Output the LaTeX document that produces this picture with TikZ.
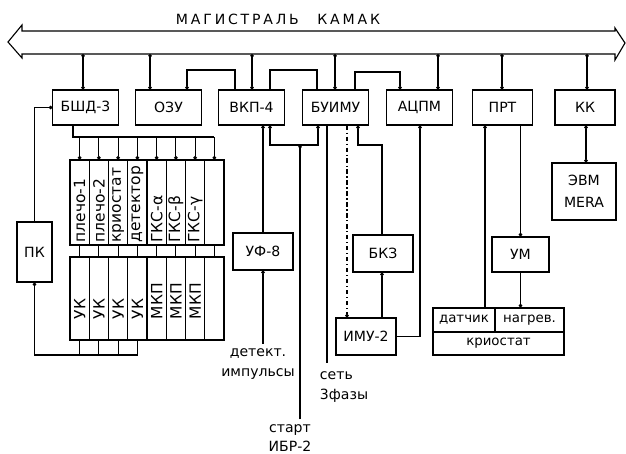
\documentclass[tikz,border=0pt]{standalone}
\usepackage{fontspec}
\setmainfont{DejaVu Sans}
\newfontfamily\titlefont[LetterSpace=20]{DejaVu Sans}
\usetikzlibrary{arrows.meta}

\begin{document}
\begin{tikzpicture}[
            x=0.025cm, y=-0.025cm,
            >={Circle[length=2.5pt]},
            wire/.style={line width=0.8pt},
            unitbox/.style={draw, line width=0.8pt, minimum width=1.63cm, minimum height=0.875cm, inner sep=1pt, font=\fontsize{10}{12}\selectfont},
            slot/.style={draw, line width=0.8pt, minimum width=0.48cm, inner sep=0pt},
            slotlabel/.style={rotate=90, anchor=west, inner sep=1pt, font=\fontsize{11}{11}\selectfont},
            cell/.style={draw, line width=0.8pt, inner sep=1pt, font=\fontsize{9.5}{11}\selectfont},
            signal/.style={align=center, font=\fontsize{10}{14}\selectfont}
        ]
            \fill[white] (0,0) rectangle (626,454);
            \useasboundingbox (0,0) rectangle (626,454);

            % bus
            \node[font={\titlefont\fontsize{10}{12}\selectfont}] (title) at (278,19) {МАГИСТРАЛЬ\hspace{8pt} КАМАК};
            \draw[wire] (22,31) -- (615,31) -- (615,28) -- (625,43) -- (615,60) -- (615,54)
                -- (22,54) -- (22,58) -- (8,42) -- (22,25) -- cycle;
            \coordinate (bus) at (0,54);

            % crate units (top row)
            \node[unitbox] (bshd) at (85.5,107.5) {БШД-3};
            \node[unitbox] (ozu) at (168.5,107.5) {ОЗУ};
            \node[unitbox] (vkp) at (251.5,107.5) {ВКП-4};
            \node[unitbox] (buimu) at (335.5,107.5) {БУИМУ};
            \node[unitbox] (acpm) at (419.5,107.5) {АЦПМ};
            \node[unitbox, minimum width=1.52cm] (prt) at (502.5,107.5) {ПРТ};
            \node[unitbox, minimum width=1.5cm] (kk) at (585,107.5) {КК};

            % bus links
            \foreach \n/\x in {bshd/83, ozu/150, vkp/252, buimu/335, acpm/438, prt/502, kk/587}{
                \draw[wire, <->] (bus -| \x,0) -- (\n.north -| \x,0);
            }

            % links between units
            \draw[wire, <-] (ozu.north -| 187,0) |- (235,70) -- (vkp.north -| 235,0);
            \draw[wire] (vkp.north -| 270,0) |- (317,70) -- (buimu.north -| 317,0);
            \draw[wire, ->] (buimu.north -| 355,0) |- (400,72) -- (acpm.north -| 400,0);

            % branch crate
            \foreach \i in {1,...,8}{
                \node[slot, minimum height=2.125cm] (up\i) at ({60.375+\i*19.25},202.5) {};
                \node[slot, minimum height=2.075cm] (lo\i) at ({60.375+\i*19.25},298.5) {};
            }
            \foreach \lab [count=\i] in {плечо-1, плечо-2, криостат, детектор, ГКС-α, ГКС-β, ГКС-γ}{
                \node[slotlabel] at ([yshift=1pt]up\i.south) {\lab};
            }
            \foreach \lab [count=\i] in {УК, УК, УК, УК, МКП, МКП, МКП}{
                \node[slotlabel] at ([yshift=14pt]lo\i.south) {\lab};
            }
            \coordinate (crate) at (73,137);
            \draw[wire] (bshd.south -| crate) -- (crate) -- (up8.north |- crate);
            \foreach \i in {1,...,8}{
                \draw[wire, ->] (up\i.north |- crate) -- (up\i.north);
                \draw[wire] (up\i.south) -- (lo\i.north);
            }

            % ПК
            \node[unitbox, minimum width=0.875cm, minimum height=1.5cm] (pk) at (34.5,252) {ПК};
            \coordinate (pkline) at (0,355);
            \draw[wire, ->] (pk.north) |- (bshd.west);
            \draw[wire, <-] (pk.south) |- (lo4.south |- pkline) -- (lo4.south);
            \foreach \i in {1,2,3}{
                \draw[wire] (lo\i.south) -- (lo\i.south |- pkline);
            }

            % УФ-8
            \node[unitbox, minimum width=1.5cm, minimum height=0.925cm] (uf) at (263,251.5) {УФ-8};
            \node[signal] (det) at (258,364) {детект.\\импульсы};
            \draw[wire, <-] (vkp.south -| uf.north) -- (uf.north);
            \draw[wire, <-] (uf.south) -- (det.north -| uf.south);

            % start
            \coordinate (startj) at (300,145);
            \node[signal] (start) at (290,438) {старт\\ИБР-2};
            \draw[wire, <->] (vkp.south -| 270,0) |- (318,145) -- (buimu.south -| 318,0);
            \draw[wire, ->] (start.north -| startj) -- (startj);

            % mains
            \node[signal, align=left, anchor=north west] (net) at (315,367) {сеть\\3фазы};
            \draw[line width=1.3pt, shorten >=3pt] (buimu.south -| 327,0) -- (net.north -| 327,0);

            % magnet supply
            \node[unitbox, minimum width=1.5cm, minimum height=0.925cm] (bkz) at (383,253.5) {БКЗ};
            \node[unitbox, minimum width=1.5cm, minimum height=0.925cm] (imu) at (366,336.5) {ИМУ-2};
            \draw[wire, dash dot, ->] (buimu.south -| 347,0) -- (imu.north -| 347,0);
            \draw[wire, <-] (buimu.south -| 358,0) |- (382,145) -- (bkz.north -| 382,0);
            \draw[wire, <-] (bkz.south -| 382,0) -- (imu.north -| 382,0);
            \draw[wire, <-] (acpm.south -| 420,0) |- (imu.east);

            % cryostat
            \node[cell, minimum width=1.55cm, minimum height=0.6cm] (dat) at (464,320) {датчик};
            \node[cell, minimum width=1.725cm, minimum height=0.6cm] (nag) at (529.5,320) {нагрев.};
            \node[cell, minimum width=3.275cm, minimum height=0.575cm] (krio) at (498.5,343.5) {криостат};
            \node[unitbox, minimum width=1.425cm] (um) at (520.5,254.5) {УМ};
            \draw[wire, <-] (prt.south -| 485,0) -- (dat.north -| 485,0);
            \draw[wire, ->] (prt.south -| um.north) -- (um.north);
            \draw[wire, ->] (um.south) -- (nag.north -| um.south);

            % computer
            \node[unitbox, align=center, minimum width=1.6cm, minimum height=1.425cm, font=\fontsize{10}{16}\selectfont] (evm) at (584,191.5) {ЭВМ\\MERA};
            \draw[wire, <->] (kk.south -| 586,0) -- (evm.north -| 586,0);

        \end{tikzpicture}
\end{document}
